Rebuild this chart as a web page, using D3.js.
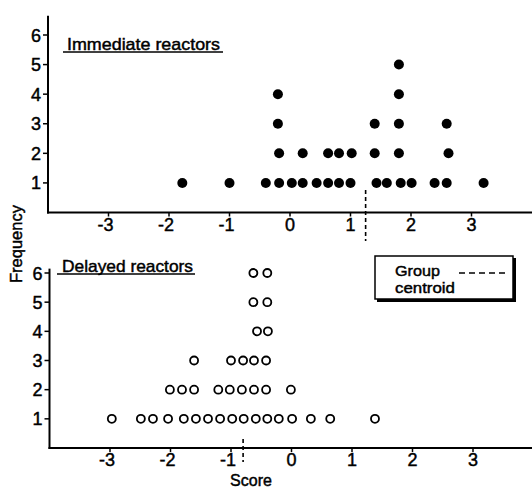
<!DOCTYPE html>
<html><head><meta charset="utf-8">
<script src="https://cdn.jsdelivr.net/npm/d3@7"></script>
<style>
body{margin:0;background:#fff;}
svg{display:block;font-family:"Liberation Sans",Arial,sans-serif;}
svg text{fill:#000;stroke:#000;stroke-width:0.45px;}
</style></head><body>
<svg id="c" width="532" height="490"></svg>
<script>
// Data (score, stack level)
const immediateScores = [-1.78,-1.00,-0.40,-0.18,0.03,0.21,0.44,0.63,0.81,1.00,1.43,1.60,1.83,2.01,2.39,2.59,3.20,
  -0.18,0.21,0.63,0.81,1.02,1.40,1.80,2.62,
  -0.20,1.40,1.80,2.59,
  -0.20,1.80,
  1.80];
const immediateLevels = [1,1,1,1,1,1,1,1,1,1,1,1,1,1,1,1,1,
  2,2,2,2,2,2,2,2,
  3,3,3,3,
  4,4,
  5];
const delayedScores = [-2.97,-2.49,-2.29,-2.04,-1.78,-1.58,-1.38,-1.18,-0.98,-0.79,-0.59,-0.40,-0.21,0.01,0.32,0.64,1.38,
  -2.01,-1.81,-1.61,-1.21,-1.02,-0.82,-0.62,-0.42,-0.01,
  -1.61,-1.00,-0.80,-0.62,-0.42,
  -0.57,-0.39,
  -0.63,-0.40,
  -0.63,-0.40];
const delayedLevels = [1,1,1,1,1,1,1,1,1,1,1,1,1,1,1,1,1,
  2,2,2,2,2,2,2,2,2,
  3,3,3,3,3,
  4,4,
  5,5,
  6,6];
const immediateCentroid = 1.25;
const delayedCentroid = -0.80;
const xTicks = [-3,-2,-1,0,1,2,3];
const yTicks = [1,2,3,4,5,6];
const panelTitles = ["Immediate reactors","Delayed reactors"];
const legendLines = ["Group","centroid"];
const xLabel = "Score", yLabel = "Frequency";

const svg = d3.select("#c");
const FONT = 18;

function panel(cfg){
  const x = d3.scaleLinear().domain([-4,4]).range(cfg.xr);
  const y = d3.scaleLinear().domain([0,6]).range(cfg.yr);
  const g = svg.append("g");
  g.append("line").attr("x1",x(-4)).attr("x2",x(-4)).attr("y1",y(cfg.ytop)).attr("y2",y(0)+1)
    .attr("stroke","#000").attr("stroke-width",2);
  g.append("line").attr("x1",x(-4)-1).attr("x2",532).attr("y1",y(0)).attr("y2",y(0))
    .attr("stroke","#000").attr("stroke-width",2);
  yTicks.forEach(t=>{
    g.append("line").attr("x1",x(-4)-5).attr("x2",x(-4)).attr("y1",y(t)).attr("y2",y(t)).attr("stroke","#000").attr("stroke-width",1.5);
    g.append("text").attr("x",x(-4)-7).attr("y",y(t)+6.5).attr("text-anchor","end")
      .attr("font-size",FONT).text(t);
  });
  xTicks.forEach(t=>{
    g.append("line").attr("x1",x(t)).attr("x2",x(t)).attr("y1",y(0)).attr("y2",y(0)+4).attr("stroke","#000").attr("stroke-width",1.5);
    g.append("text").attr("x",x(t)-(t<0?3:0)).attr("y",y(0)+18).attr("text-anchor","middle")
      .attr("font-size",FONT).text(t<0?"-"+Math.abs(t):t);
  });
  g.append("text").attr("x",cfg.tx).attr("y",cfg.ty).attr("font-size",17)
    .attr("textLength",cfg.tw).attr("lengthAdjust","spacingAndGlyphs").text(cfg.title);
  g.append("line").attr("x1",cfg.ux1).attr("x2",cfg.ux2).attr("y1",cfg.ty+2).attr("y2",cfg.ty+2)
    .attr("stroke","#000").attr("stroke-width",1.6);
  g.append("line").attr("x1",x(cfg.centroid)).attr("x2",x(cfg.centroid))
    .attr("y1",cfg.cy1).attr("y2",cfg.cy2).attr("stroke","#000").attr("stroke-width",1.6)
    .attr("stroke-dasharray","4,3");
  g.selectAll("circle.pt").data(cfg.scores.map((s,i)=>[s,cfg.levels[i]])).join("circle")
    .attr("class","pt").attr("cx",d=>x(d[0])).attr("cy",d=>y(d[1]))
    .attr("r",cfg.filled?5:4)
    .attr("fill",cfg.filled?"#000":"none").attr("stroke","#000").attr("stroke-width",cfg.filled?0:1.8);
  return {x,y};
}

panel({xr:[48,532], yr:[212.5,35], ytop:6.65, scores:immediateScores, levels:immediateLevels, filled:true,
  title:panelTitles[0], tx:67, ty:50, tw:153, ux1:63, ux2:223, centroid:immediateCentroid, cy1:190, cy2:241});
panel({xr:[49.5,533.5], yr:[448,273], ytop:6.15, scores:delayedScores, levels:delayedLevels, filled:false,
  title:panelTitles[1], tx:62, ty:272, tw:131, ux1:57, ux2:195, centroid:delayedCentroid, cy1:439, cy2:462});

svg.append("text").attr("x",251).attr("y",486).attr("text-anchor","middle").attr("font-size",16).text(xLabel);
svg.append("text").attr("transform","translate(22,244) rotate(-90)").attr("text-anchor","middle")
  .attr("font-size",16.5).text(yLabel);

const lg = svg.append("g");
lg.append("rect").attr("x",377).attr("y",258).attr("width",139).attr("height",44).attr("fill","#000");
lg.append("rect").attr("x",375).attr("y",256).attr("width",138).attr("height",43).attr("fill","#fff")
  .attr("stroke","#000").attr("stroke-width",1.5);
lg.append("text").attr("x",395).attr("y",276).attr("font-size",15.5).attr("textLength",45).attr("lengthAdjust","spacingAndGlyphs").text(legendLines[0]);
lg.append("text").attr("x",395).attr("y",293).attr("font-size",15.5).attr("textLength",60).attr("lengthAdjust","spacingAndGlyphs").text(legendLines[1]);
lg.append("line").attr("x1",459).attr("x2",505).attr("y1",273).attr("y2",273).attr("stroke","#000")
  .attr("stroke-width",1.6).attr("stroke-dasharray","6,4");
</script>
</body></html>
